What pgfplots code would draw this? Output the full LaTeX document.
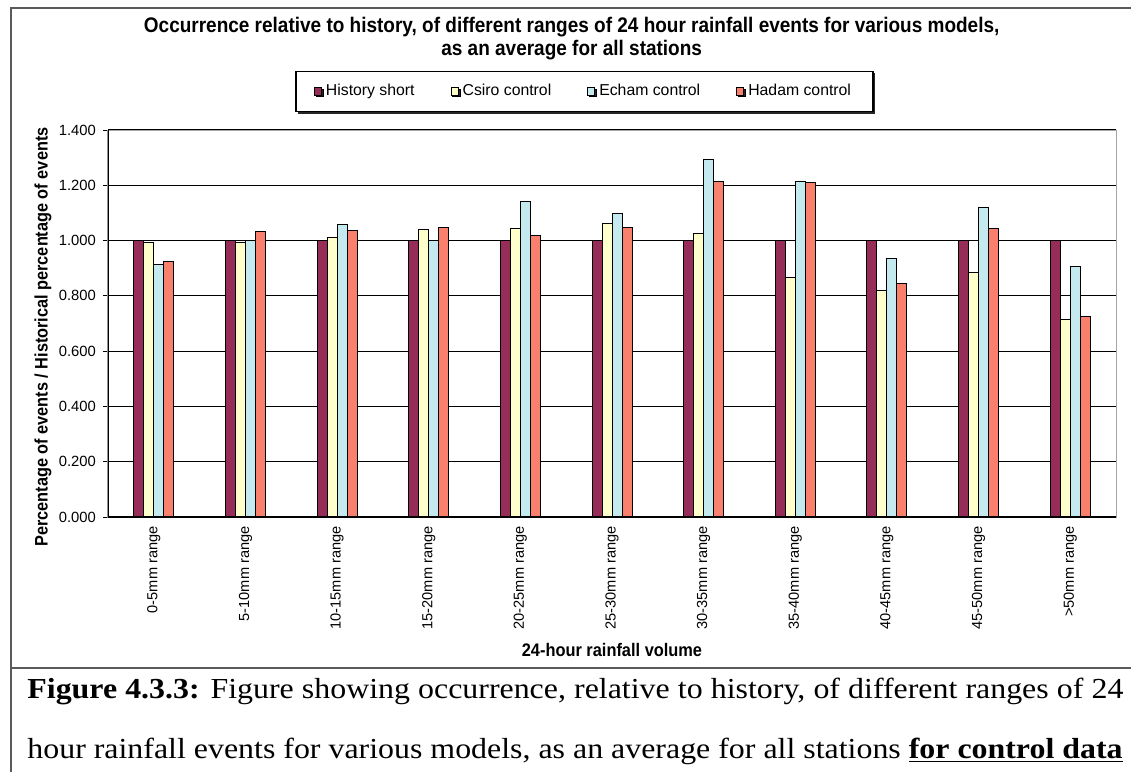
\documentclass[border=0pt]{standalone}
\usepackage{pgfplots}
\pgfplotsset{compat=1.18}
\usepackage{pgfplotstable}
\usepackage{fontspec}
\setmainfont{Liberation Sans}
\newfontfamily\narrowfont{Liberation Sans}[FakeStretch=0.9]
\newfontfamily\capfont{Liberation Serif}[FakeStretch=1.1]
\usetikzlibrary{shadows}

\definecolor{histc}{RGB}{150,45,88}
\definecolor{csiroc}{RGB}{255,255,204}
\definecolor{echamc}{RGB}{196,234,240}
\definecolor{hadamc}{RGB}{250,128,110}
\definecolor{framec}{RGB}{90,90,90}

% ratio to history, per rainfall range
\pgfplotstableread{
cat hist csiro echam hadam
0  1.000 0.994 0.913 0.925
1  1.000 0.994 0.999 1.033
2  1.000 1.011 1.057 1.036
3  1.000 1.039 1.000 1.048
4  1.000 1.045 1.142 1.017
5  1.000 1.063 1.098 1.047
6  1.000 1.025 1.295 1.215
7  1.000 0.866 1.215 1.210
8  1.000 0.820 0.936 0.843
9  1.000 0.883 1.120 1.045
10 1.000 0.713 0.906 0.727
}\ratios

\begin{document}
\begin{tikzpicture}
\useasboundingbox (0,0) rectangle (565.5pt,-386pt);
% outer frame of chart and caption cell
\draw[framec, line width=0.8pt] (5.5pt,-386pt) -- (5.5pt,-4pt) -- (565.5pt,-4pt);
\draw[framec, line width=0.8pt] (5.5pt,-334pt) -- (565.5pt,-334pt);

\begin{axis}[
    at={(54pt,-258.5pt)}, anchor=south west,
    scale only axis,
    width=504pt, height=193.5pt,
    ybar=0pt, bar width=5pt,
    xmin=-0.5, xmax=10.5,
    ymin=0, ymax=1.4,
    xtick={0,...,10},
    xticklabels={0-5mm range,5-10mm range,10-15mm range,15-20mm range,20-25mm range,25-30mm range,30-35mm range,35-40mm range,40-45mm range,45-50mm range,>50mm range},
    x tick style={draw=none},
    extra x ticks={-0.5,0.5,...,10.5},
    extra x tick labels={},
    extra x tick style={major tick length=2.5pt, tick align=outside, tick style={black, line width=0.5pt}},
    xticklabel style={rotate=90, anchor=east, font=\fontsize{7.3}{8}\selectfont, inner sep=2pt},
    ytick={0,0.2,...,1.41},
    ytick pos=left,
    tick align=outside,
    major tick length=2.5pt,
    y tick style={black, line width=0.5pt},
    yticklabel style={font=\fontsize{7.4}{8}\selectfont,
        /pgf/number format/fixed, /pgf/number format/fixed zerofill,
        /pgf/number format/precision=3},
    /pgf/number format/assume math mode=true,
    ymajorgrids,
    grid style={black, line width=0.55pt},
    axis line style={gray!70, line width=0.5pt},
    title={Occurrence relative to history, of different ranges of 24 hour rainfall events for various models,\\as an average for all stations},
    title style={at={(0.46,1.205)}, anchor=center, align=center,
        font=\narrowfont\bfseries\fontsize{10.55}{11.2}\selectfont},
    xlabel={24-hour rainfall volume},
    xlabel style={at={(0.5,-0.344)}, anchor=center,
        font=\narrowfont\bfseries\fontsize{9.1}{10}\selectfont},
    ylabel={Percentage of events / Historical percentage of events},
    ylabel style={at={(-0.0645,0.465)}, anchor=center,
        font=\narrowfont\bfseries\fontsize{9.05}{10}\selectfont},
    legend columns=4,
    legend style={at={(0.4727,1.0995)}, anchor=center,
        draw=black, line width=0.6pt,
        drop shadow={shadow xshift=0.9pt, shadow yshift=-0.9pt, fill=black!85, opacity=1},
        fill=white,
        font=\fontsize{7.9}{9}\selectfont,
        inner xsep=9pt, inner ysep=4.5pt,
        /tikz/every even column/.append style={column sep=16pt}},
    legend image code/.code={\draw[#1, draw=black, line width=0.4pt] (0pt,-1.8pt) rectangle (3.6pt,1.8pt);},
]
\addplot[fill=histc, draw=black, line width=0.5pt] table[x=cat, y=hist] {\ratios};
\addplot[fill=csiroc, draw=black, line width=0.5pt] table[x=cat, y=csiro] {\ratios};
\addplot[fill=echamc, draw=black, line width=0.5pt] table[x=cat, y=echam] {\ratios};
\addplot[fill=hadamc, draw=black, line width=0.5pt] table[x=cat, y=hadam] {\ratios};
\legend{History short, Csiro control, Echam control, Hadam control}
\draw[black, line width=0.6pt] (rel axis cs:0,1) -- (rel axis cs:0,0) -- (rel axis cs:1,0);
\end{axis}

% figure caption below the chart
\node[anchor=base west, inner sep=0pt, font=\capfont\fontsize{14.5}{16}\selectfont] at (13.5pt,-349pt)
  {\makebox[548pt][s]{\textbf{Figure 4.3.3:} Figure showing occurrence, relative to history, of different ranges of 24}};
\node[anchor=base west, inner sep=0pt, font=\capfont\fontsize{14.5}{16}\selectfont] at (13.5pt,-379pt)
  {hour rainfall events for various models, as an average for all stations \textbf{\underline{for control data}}};
\end{tikzpicture}
\end{document}
